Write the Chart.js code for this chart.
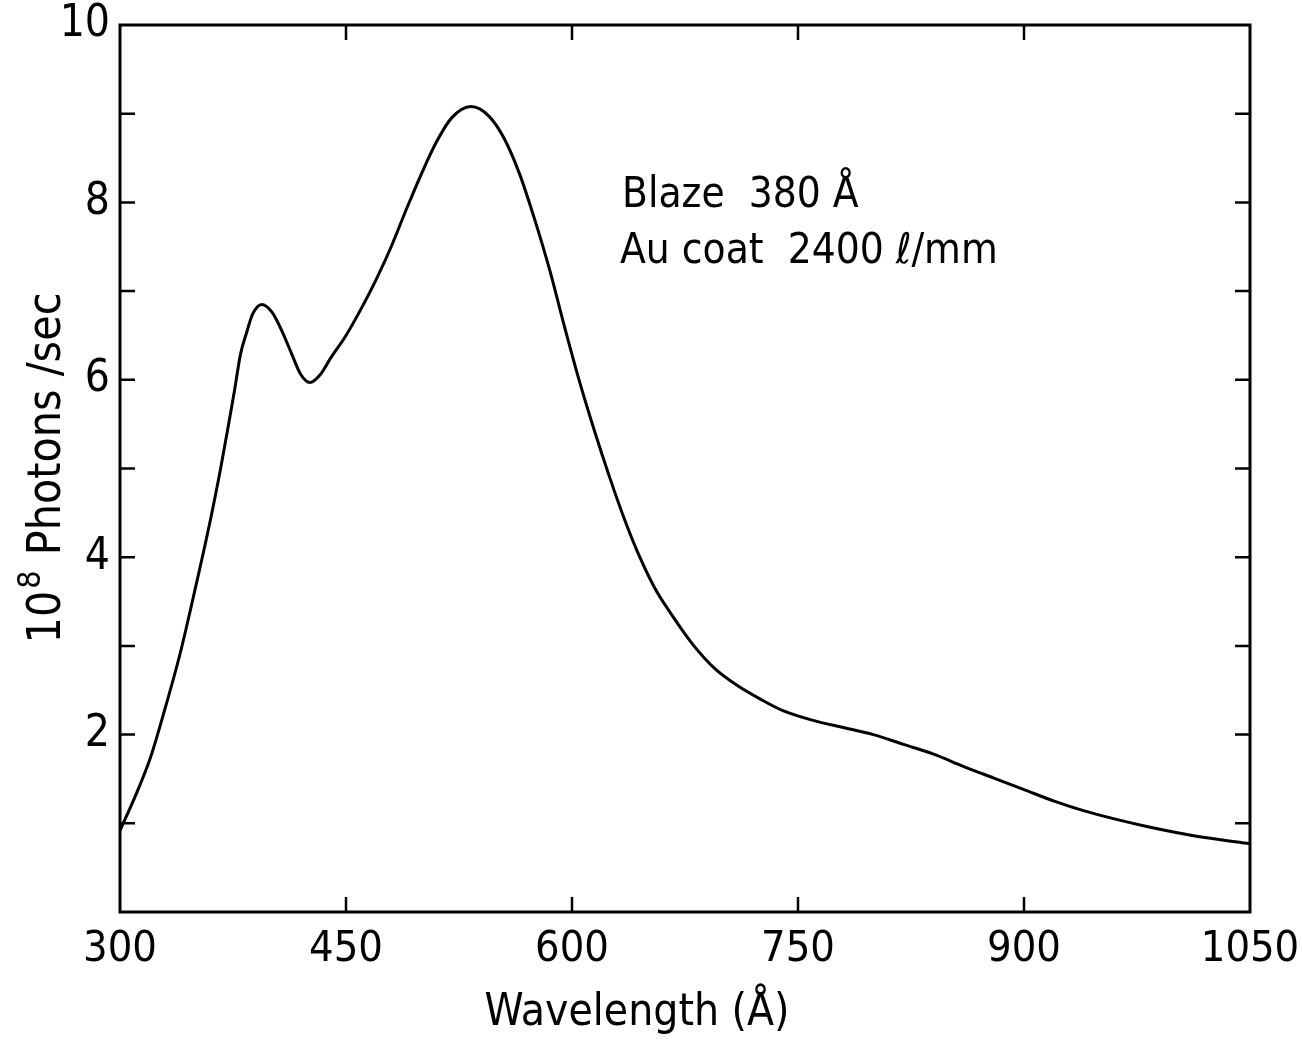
<!DOCTYPE html>
<html>
<head>
<meta charset="utf-8">
<script src="https://cdn.jsdelivr.net/npm/chart.js@4.4.1/dist/chart.umd.min.js"></script>
<style>
html,body{margin:0;padding:0;background:#fff;}
#wrap{position:relative;width:1302px;height:1041px;}
</style>
</head>
<body>
<div id="wrap"><canvas id="c" width="1302" height="1041"></canvas></div>
<script>
const wavelengths = [300,310,320,330,340,350,360,367,372,376,380,384,388,394,401,408,414,420,426,433,440,450,460,470,480,490,500,510,520,533,545,555,565,575,585,595,605,615,625,635,645,655,665,680,695,710,725,740,760,780,800,820,840,860,880,900,920,940,960,980,1000,1020,1050];
const photons = [0.92,1.30,1.73,2.30,2.92,3.65,4.42,5.02,5.49,5.88,6.29,6.53,6.74,6.85,6.76,6.53,6.29,6.06,5.97,6.06,6.25,6.50,6.80,7.13,7.50,7.92,8.32,8.68,8.95,9.08,8.97,8.72,8.33,7.82,7.25,6.60,5.98,5.42,4.90,4.42,4.00,3.65,3.38,3.02,2.74,2.55,2.40,2.27,2.16,2.08,2.00,1.89,1.78,1.64,1.51,1.38,1.25,1.14,1.05,0.97,0.90,0.84,0.77];
const xTicks = [300,450,600,750,900,1050];
const yTickLabels = [2,4,6,8,10];
const xTitle = 'Wavelength (Å)';
const yTitleBase = '10';
const yTitleExp = '8';
const yTitleRest = ' Photons /sec';
const noteLines = ['Blaze  380 Å', 'Au coat  2400 ℓ/mm'];

const FONT = '"Liberation Sans Narrow", "DejaVu Sans Condensed", "Liberation Sans", sans-serif';

function zeroPad(s) { s.paddingLeft = 0; s.paddingRight = 0; s.paddingTop = 0; s.paddingBottom = 0; }

const framePlugin = {
  id: 'frame',
  afterDraw(chart) {
    const ctx = chart.ctx;
    const a = chart.chartArea;
    const xs = chart.scales.x, ys = chart.scales.y;
    ctx.save();
    ctx.strokeStyle = '#000';
    ctx.lineWidth = 3;
    ctx.strokeRect(a.left, a.top, a.right - a.left, a.bottom - a.top);
    ctx.lineWidth = 2.5;
    const tl = 15;
    for (let v = 1; v < 10; v++) {
      const y = ys.getPixelForValue(v);
      ctx.beginPath();
      ctx.moveTo(a.left, y); ctx.lineTo(a.left + tl, y);
      ctx.moveTo(a.right, y); ctx.lineTo(a.right - tl, y);
      ctx.stroke();
    }
    xTicks.forEach(t => {
      if (t === xs.min || t === xs.max) return;
      const x = xs.getPixelForValue(t);
      ctx.beginPath();
      ctx.moveTo(x, a.bottom); ctx.lineTo(x, a.bottom - tl);
      ctx.moveTo(x, a.top); ctx.lineTo(x, a.top + tl);
      ctx.stroke();
    });
    ctx.fillStyle = '#000';
    ctx.font = '44px ' + FONT;
    ctx.textAlign = 'center';
    ctx.textBaseline = 'alphabetic';
    ctx.fillText(xTitle, 637, 1025);
    ctx.translate(60, 468);
    ctx.rotate(-Math.PI / 2);
    ctx.font = '46px ' + FONT;
    const w1 = ctx.measureText(yTitleBase).width;
    ctx.font = '32px ' + FONT;
    const w2 = ctx.measureText(yTitleExp).width;
    ctx.font = '46px ' + FONT;
    const w3 = ctx.measureText(yTitleRest).width;
    const total = w1 + w2 + 4 + w3;
    let x0 = -total / 2;
    ctx.textAlign = 'left';
    ctx.fillText(yTitleBase, x0, 0);
    ctx.font = '32px ' + FONT;
    ctx.fillText(yTitleExp, x0 + w1 + 2, -20);
    ctx.font = '46px ' + FONT;
    ctx.fillText(yTitleRest, x0 + w1 + w2 + 4, 0);
    ctx.restore();
    ctx.save();
    ctx.fillStyle = '#000';
    ctx.font = '42px ' + FONT;
    ctx.textAlign = 'left';
    ctx.textBaseline = 'alphabetic';
    ctx.fillText(noteLines[0], 622, 207);
    ctx.fillText(noteLines[1], 620, 263);
    ctx.restore();
  }
};

new Chart(document.getElementById('c'), {
  type: 'scatter',
  data: {
    datasets: [{
      data: wavelengths.map((w, i) => ({x: w, y: photons[i]})),
      showLine: true,
      borderColor: '#000',
      borderWidth: 3,
      pointRadius: 0,
      cubicInterpolationMode: 'monotone',
      fill: false
    }]
  },
  options: {
    responsive: false,
    animation: false,
    layout: { padding: { top: 25, right: 52, left: 0, bottom: 0 } },
    plugins: { legend: { display: false }, tooltip: { enabled: false } },
    scales: {
      x: {
        type: 'linear', min: 300, max: 1050,
        afterFit(s) { s.height = 129; zeroPad(s); },
        afterBuildTicks(s) { s.ticks = xTicks.map(v => ({value: v})); },
        grid: { display: false, drawTicks: false },
        border: { display: false },
        ticks: { color: '#000', font: { family: FONT, size: 43 }, padding: 12, maxRotation: 0, autoSkip: false, callback: v => String(v) }
      },
      y: {
        type: 'linear', min: 0, max: 10,
        afterFit(s) { s.width = 120; zeroPad(s); },
        afterBuildTicks(s) { s.ticks = yTickLabels.map(v => ({value: v})); },
        grid: { display: false, drawTicks: false },
        border: { display: false },
        ticks: { color: '#000', font: { family: FONT, size: 44 }, padding: 10, callback: v => String(v) }
      }
    }
  },
  plugins: [framePlugin]
});
</script>
</body>
</html>
